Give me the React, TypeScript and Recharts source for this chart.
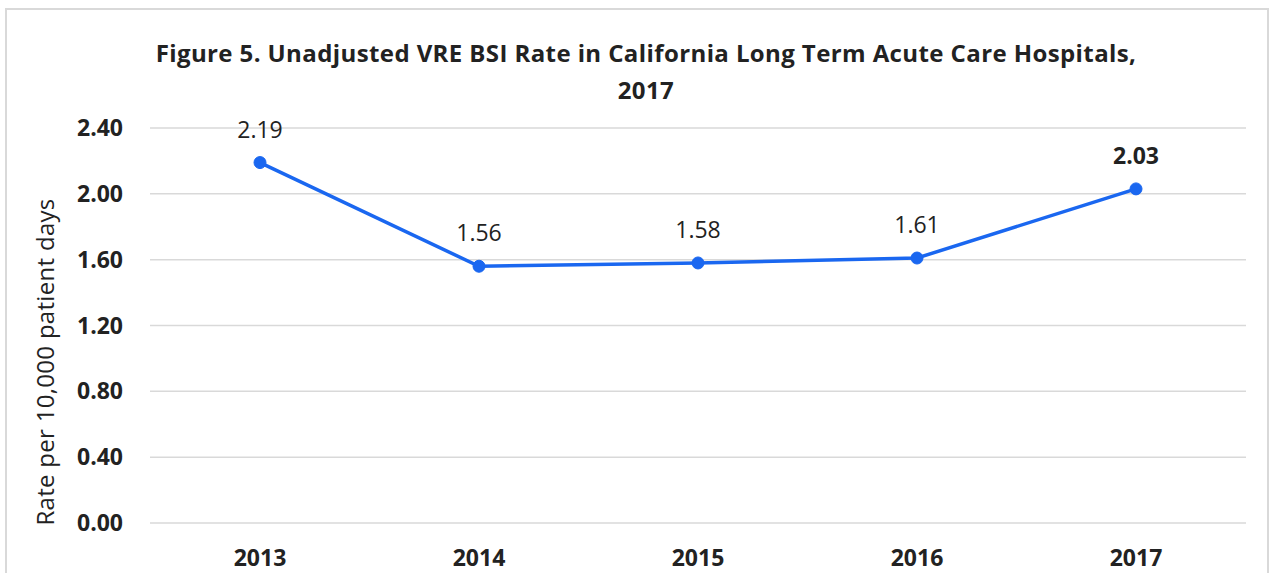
import { LineChart, Line, XAxis, YAxis, CartesianGrid, LabelList } from 'recharts'

const years = ['2013', '2014', '2015', '2016', '2017']
const rates = [2.19, 1.56, 1.58, 1.61, 2.03]
const yTicks = [0, 0.4, 0.8, 1.2, 1.6, 2.0, 2.4]

const chartData = years.map((year, i) => ({ year, rate: rates[i] }))

const FONT = '"Open Sans", "DejaVu Sans", sans-serif'
const BLUE = '#1A67F0'

const renderValue = (props: any) => {
  const x = props.x ?? props.viewBox?.x
  const y = props.y ?? props.viewBox?.y
  // the last label is bold in the original
  const last = props.index === years.length - 1
  return (
    <text
      x={x}
      y={y - 25}
      textAnchor="middle"
      fontFamily={FONT}
      fontSize={23}
      fontWeight={last ? 700 : 400}
      fill="#222"
    >
      {Number(props.value).toFixed(2)}
    </text>
  )
}

const renderAxisTitle = () => (
  <text
    x={44}
    y={362}
    transform="rotate(-90, 44, 362)"
    textAnchor="middle"
    dominantBaseline="central"
    fontFamily={FONT}
    fontSize={24}
    letterSpacing={0.3}
    fill="#222"
  >
    Rate per 10,000 patient days
  </text>
)

export default function App() {
  return (
    <div style={{ position: 'absolute', left: 0, top: 0, width: 1278, height: 573, background: '#fff', overflow: 'hidden' }}>
      <div
        style={{
          position: 'absolute',
          left: 5,
          top: 8,
          width: 1260,
          height: 600,
          border: '2px solid #d9d9d9',
        }}
      />
      <div
        style={{
          position: 'absolute',
          left: 0,
          top: 34,
          width: 1292,
          textAlign: 'center',
          fontFamily: FONT,
          fontWeight: 700,
          fontSize: 24,
          letterSpacing: 0.4,
          lineHeight: '37px',
          color: '#222',
        }}
      >
        Figure 5. Unadjusted VRE BSI Rate in California Long Term Acute Care Hospitals,
        <br />
        2017
      </div>
      <div style={{ position: 'absolute', left: 0, top: 0 }}>
        <LineChart width={1278} height={573} data={chartData} margin={{ top: 128, right: 32, bottom: 0, left: 0 }}>
          <CartesianGrid vertical={false} stroke="#d9d9d9" strokeWidth={1.5} />
          <XAxis
            dataKey="year"
            height={50}
            axisLine={false}
            tickLine={false}
            tickMargin={21}
            padding={{ left: 110, right: 110 }}
            tick={{ fontFamily: FONT, fontSize: 23, fontWeight: 700, fill: '#222' }}
          />
          <YAxis
            width={150}
            domain={[0, 2.4]}
            ticks={yTicks}
            axisLine={false}
            tickLine={false}
            tickMargin={21}
            tickFormatter={(v: number) => v.toFixed(2)}
            tick={{ fontFamily: FONT, fontSize: 23, fontWeight: 700, fill: '#222' }}
            label={{ content: renderAxisTitle }}
          />
          <Line
            type="linear"
            dataKey="rate"
            stroke={BLUE}
            strokeWidth={3.5}
            dot={{ r: 6, fill: BLUE, stroke: BLUE, strokeWidth: 1 }}
            isAnimationActive={false}
          >
            <LabelList dataKey="rate" content={renderValue} />
          </Line>
        </LineChart>
      </div>
    </div>
  )
}
